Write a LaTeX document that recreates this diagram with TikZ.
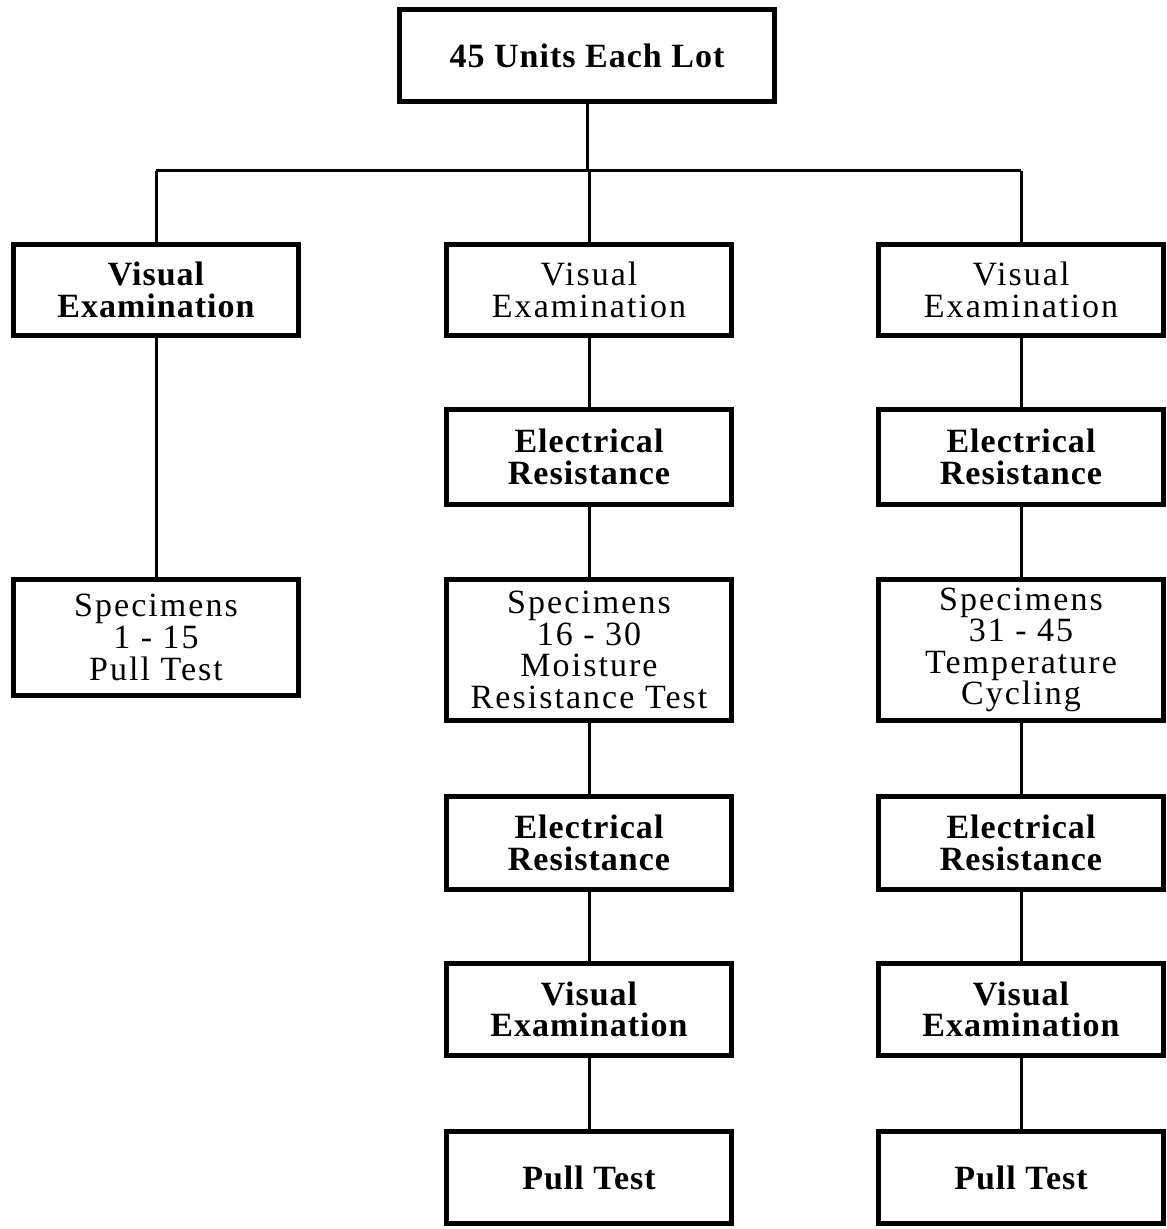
\documentclass[tikz,border=0pt]{standalone}
\usepackage{fontspec}
\setmainfont{Liberation Serif}[LetterSpace=6,BoldFeatures={LetterSpace=3}]
\begin{document}
\begin{tikzpicture}[x=0.5pt,y=-0.5pt,
  box/.style={draw,line width=2.5pt,align=center,inner sep=0pt,
    font=\fontsize{17pt}{15.8pt}\selectfont,minimum width=142.5pt},
  bx/.style={box,font=\fontsize{17pt}{15.8pt}\selectfont\bfseries},
  link/.style={line width=1.5pt}]
\useasboundingbox (0,0) rectangle (1166,1229);
% top
\node[bx,minimum width=187.5pt,minimum height=46pt] (top) at (587,55.5) {45 Units Each Lot};
% left column
\node[bx,minimum height=45.5pt] (l1) at (156,290) {Visual\\Examination};
\node[box,minimum height=58pt] (l2) at (156,637.5) {Specimens\\1 - 15\\Pull Test};
% middle column
\node[box,minimum height=45.5pt] (m1) at (589,290) {Visual\\Examination};
\node[bx,minimum height=47.5pt] (m2) at (589,457) {Electrical\\Resistance};
\node[box,minimum height=70.5pt] (m3) at (589,650) {Specimens\\16 - 30\\Moisture\\Resistance Test};
\node[bx,minimum height=46.5pt] (m4) at (589,843) {Electrical\\Resistance};
\node[bx,minimum height=46pt] (m5) at (589,1009.5) {Visual\\Examination};
\node[bx,minimum height=46pt] (m6) at (589,1177.5) {Pull Test};
% right column
\node[box,minimum height=45.5pt] (r1) at (1021,290) {Visual\\Examination};
\node[bx,minimum height=47.5pt] (r2) at (1021,457) {Electrical\\Resistance};
\node[box,minimum height=70.5pt] (r3) at (1021,650) {Specimens\\31 - 45\\Temperature\\Cycling};
\node[bx,minimum height=46.5pt] (r4) at (1021,843) {Electrical\\Resistance};
\node[bx,minimum height=46pt] (r5) at (1021,1009.5) {Visual\\Examination};
\node[bx,minimum height=46pt] (r6) at (1021,1177.5) {Pull Test};
% bus
\coordinate (busL) at (156,171);
\coordinate (busR) at (1021,171);
\coordinate (busM) at (589,171);
\draw[link] (top.south) -- (top.south |- busL);
\draw[link] (busL) -- (busR);
\draw[link] (busL) -- (l1.north);
\draw[link] (busM) -- (m1.north);
\draw[link] (busR) -- (r1.north);
\draw[link] (l1) -- (l2);
\draw[link] (m1) -- (m2);
\draw[link] (m2) -- (m3);
\draw[link] (m3) -- (m4);
\draw[link] (m4) -- (m5);
\draw[link] (m5) -- (m6);
\draw[link] (r1) -- (r2);
\draw[link] (r2) -- (r3);
\draw[link] (r3) -- (r4);
\draw[link] (r4) -- (r5);
\draw[link] (r5) -- (r6);
\end{tikzpicture}
\end{document}
